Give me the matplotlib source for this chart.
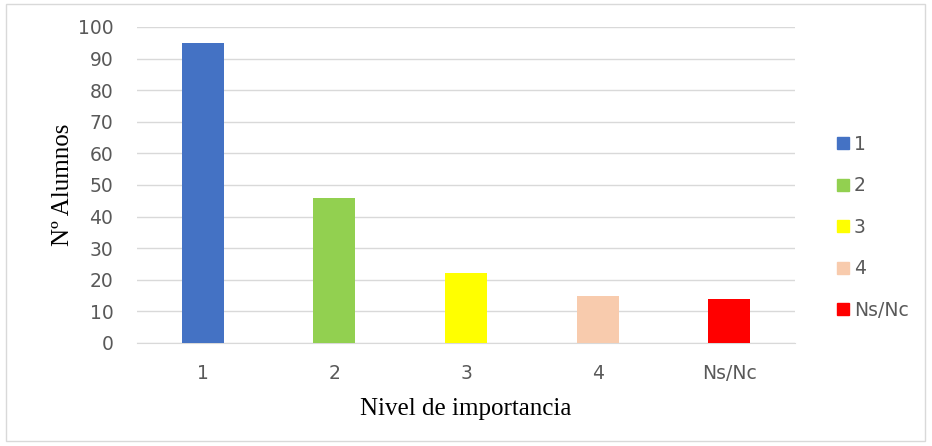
import matplotlib.pyplot as plt
from matplotlib.patches import Rectangle
from matplotlib.lines import Line2D

# Data
categorias = ["1", "2", "3", "4", "Ns/Nc"]
alumnos = [95, 46, 22, 15, 14]
colores = ["#4472C4", "#92D050", "#FFFF00", "#F8CBAD", "#FF0000"]

fig = plt.figure(figsize=(9.32, 4.46), dpi=100)
ax = fig.add_axes([0.147, 0.231, 0.706, 0.7085])

# frame around the whole picture
fig.patches.append(Rectangle((0.006, 0.012), 0.986, 0.98, transform=fig.transFigure,
                             fill=False, edgecolor="#D9D9D9", linewidth=1))

x = range(len(categorias))
ax.bar(x, alumnos, width=0.32, color=colores, zorder=3)

ax.set_xlim(-0.5, len(categorias) - 0.5)
ax.set_ylim(0, 100)
ax.set_yticks(range(0, 101, 10))
ax.set_xticks(list(x))
ax.set_xticklabels(categorias)
ax.tick_params(axis="both", length=0, colors="#595959", labelsize=13.5)
ax.tick_params(axis="y", pad=17)
ax.tick_params(axis="x", pad=15)
ax.grid(axis="y", color="#D9D9D9", linewidth=1, zorder=0)
for s in ["top", "right", "left"]:
    ax.spines[s].set_visible(False)
ax.spines["bottom"].set_color("#D9D9D9")

ax.set_ylabel("Nº Alumnos", family="Liberation Serif", fontsize=18, labelpad=3)
ax.set_xlabel("Nivel de importancia", family="Liberation Serif", fontsize=18, labelpad=11)

# Legend
handles = [Line2D([], [], marker="s", linestyle="", markersize=9, color=c) for c in colores]
leg = fig.legend(handles, categorias, loc="center left", bbox_to_anchor=(0.877, 0.49),
                 frameon=False, fontsize=13.5, labelspacing=1.2, handletextpad=0.15,
                 handlelength=0.9)
for t in leg.get_texts():
    t.set_color("#595959")

fig.savefig("out.png", dpi=100)
